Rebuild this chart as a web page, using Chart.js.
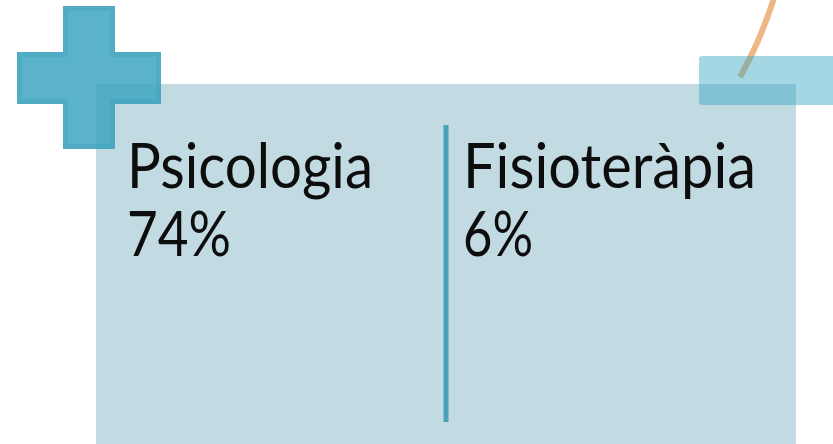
<!DOCTYPE html>
<html>
<head>
<meta charset="utf-8">
<script src="https://cdn.jsdelivr.net/npm/chart.js@4"></script>
<style>
    html, body { margin: 0; padding: 0; background: #ffffff; }
    #wrap { width: 833px; height: 444px; }
</style>
</head>
<body>
<div id="wrap"><canvas id="infoChart" width="833" height="444"></canvas></div>
<script>
// ================= DATA =================

const categories = ["Psicologia", "Fisioteràpia"];
const percentages = [74, 6];
const valueLabels = ["74%", "6%"];

// ================= DECORATION PLUGIN =================

const panelPlugin = {
    id: "panel",
    beforeDatasetsDraw(chart) {
        const { ctx, chartArea } = chart;
        ctx.save();
        ctx.fillStyle = "#c2dbe3";
        ctx.fillRect(chartArea.left, chartArea.top, chartArea.right - chartArea.left, chartArea.bottom - chartArea.top);
        ctx.restore();
    },
    afterDatasetsDraw(chart) {
        const { ctx, chartArea } = chart;
        const x = chart.scales.x;

        // divider between the two categories
        const mid = (x.getPixelForValue(0) + x.getPixelForValue(1)) / 2;
        ctx.save();
        ctx.fillStyle = "#4aa0b9";
        ctx.fillRect(mid - 2.5, chartArea.top + 41, 5, 297);

        // labels
        ctx.fillStyle = "#0d0d0d";
        ctx.font = "61px Lato";
        ctx.textBaseline = "alphabetic";
        ctx.textAlign = "left";
        const inset = [31, 17];
        const nameWidth = [246, 293];
        const valWidth = [104, 70];
        categories.forEach((name, i) => {
            const start = x.getPixelForValue(i) - 175 + inset[i];
            ctx.fillText(name, start, 188, nameWidth[i]);
            ctx.fillText(valueLabels[i], start, 256, valWidth[i]);
        });

        // plus sign
        ctx.fillStyle = "rgba(62,166,192,0.85)";
        ctx.beginPath();
        ctx.moveTo(63, 6);
        ctx.lineTo(115, 6);
        ctx.lineTo(115, 52);
        ctx.lineTo(161, 52);
        ctx.lineTo(161, 104);
        ctx.lineTo(115, 104);
        ctx.lineTo(115, 149);
        ctx.lineTo(63, 149);
        ctx.lineTo(63, 104);
        ctx.lineTo(17, 104);
        ctx.lineTo(17, 52);
        ctx.lineTo(63, 52);
        ctx.closePath();
        ctx.fill();
        ctx.clip();
        ctx.strokeStyle = "rgba(60,160,190,0.35)";
        ctx.lineWidth = 10;
        ctx.stroke();
        ctx.restore();

        // string
        ctx.save();
        ctx.strokeStyle = "#eeb886";
        ctx.lineWidth = 6;
        ctx.lineCap = "butt";
        ctx.beginPath();
        ctx.moveTo(774, -2);
        ctx.quadraticCurveTo(760, 42, 740, 77);
        ctx.stroke();

        // tape
        ctx.fillStyle = "rgba(53,164,193,0.45)";
        ctx.beginPath();
        ctx.roundRect(699, 56, 150, 49, 3);
        ctx.fill();
        ctx.restore();
    },
};

// ================= CHART =================

new Chart(document.getElementById("infoChart"), {
    type: "bar",
    data: {
        labels: categories,
        datasets: [
            {
                label: "%",
                data: percentages,
                backgroundColor: "rgba(0,0,0,0)",
                borderWidth: 0,
            },
        ],
    },
    options: {
        responsive: false,
        animation: false,
        layout: { padding: { left: 96, top: 84, right: 37, bottom: 0 } },
        plugins: { legend: { display: false }, tooltip: { enabled: false } },
        scales: {
            x: { display: false },
            y: { display: false, min: 0, max: 100 },
        },
    },
    plugins: [panelPlugin],
});
</script>
</body>
</html>
